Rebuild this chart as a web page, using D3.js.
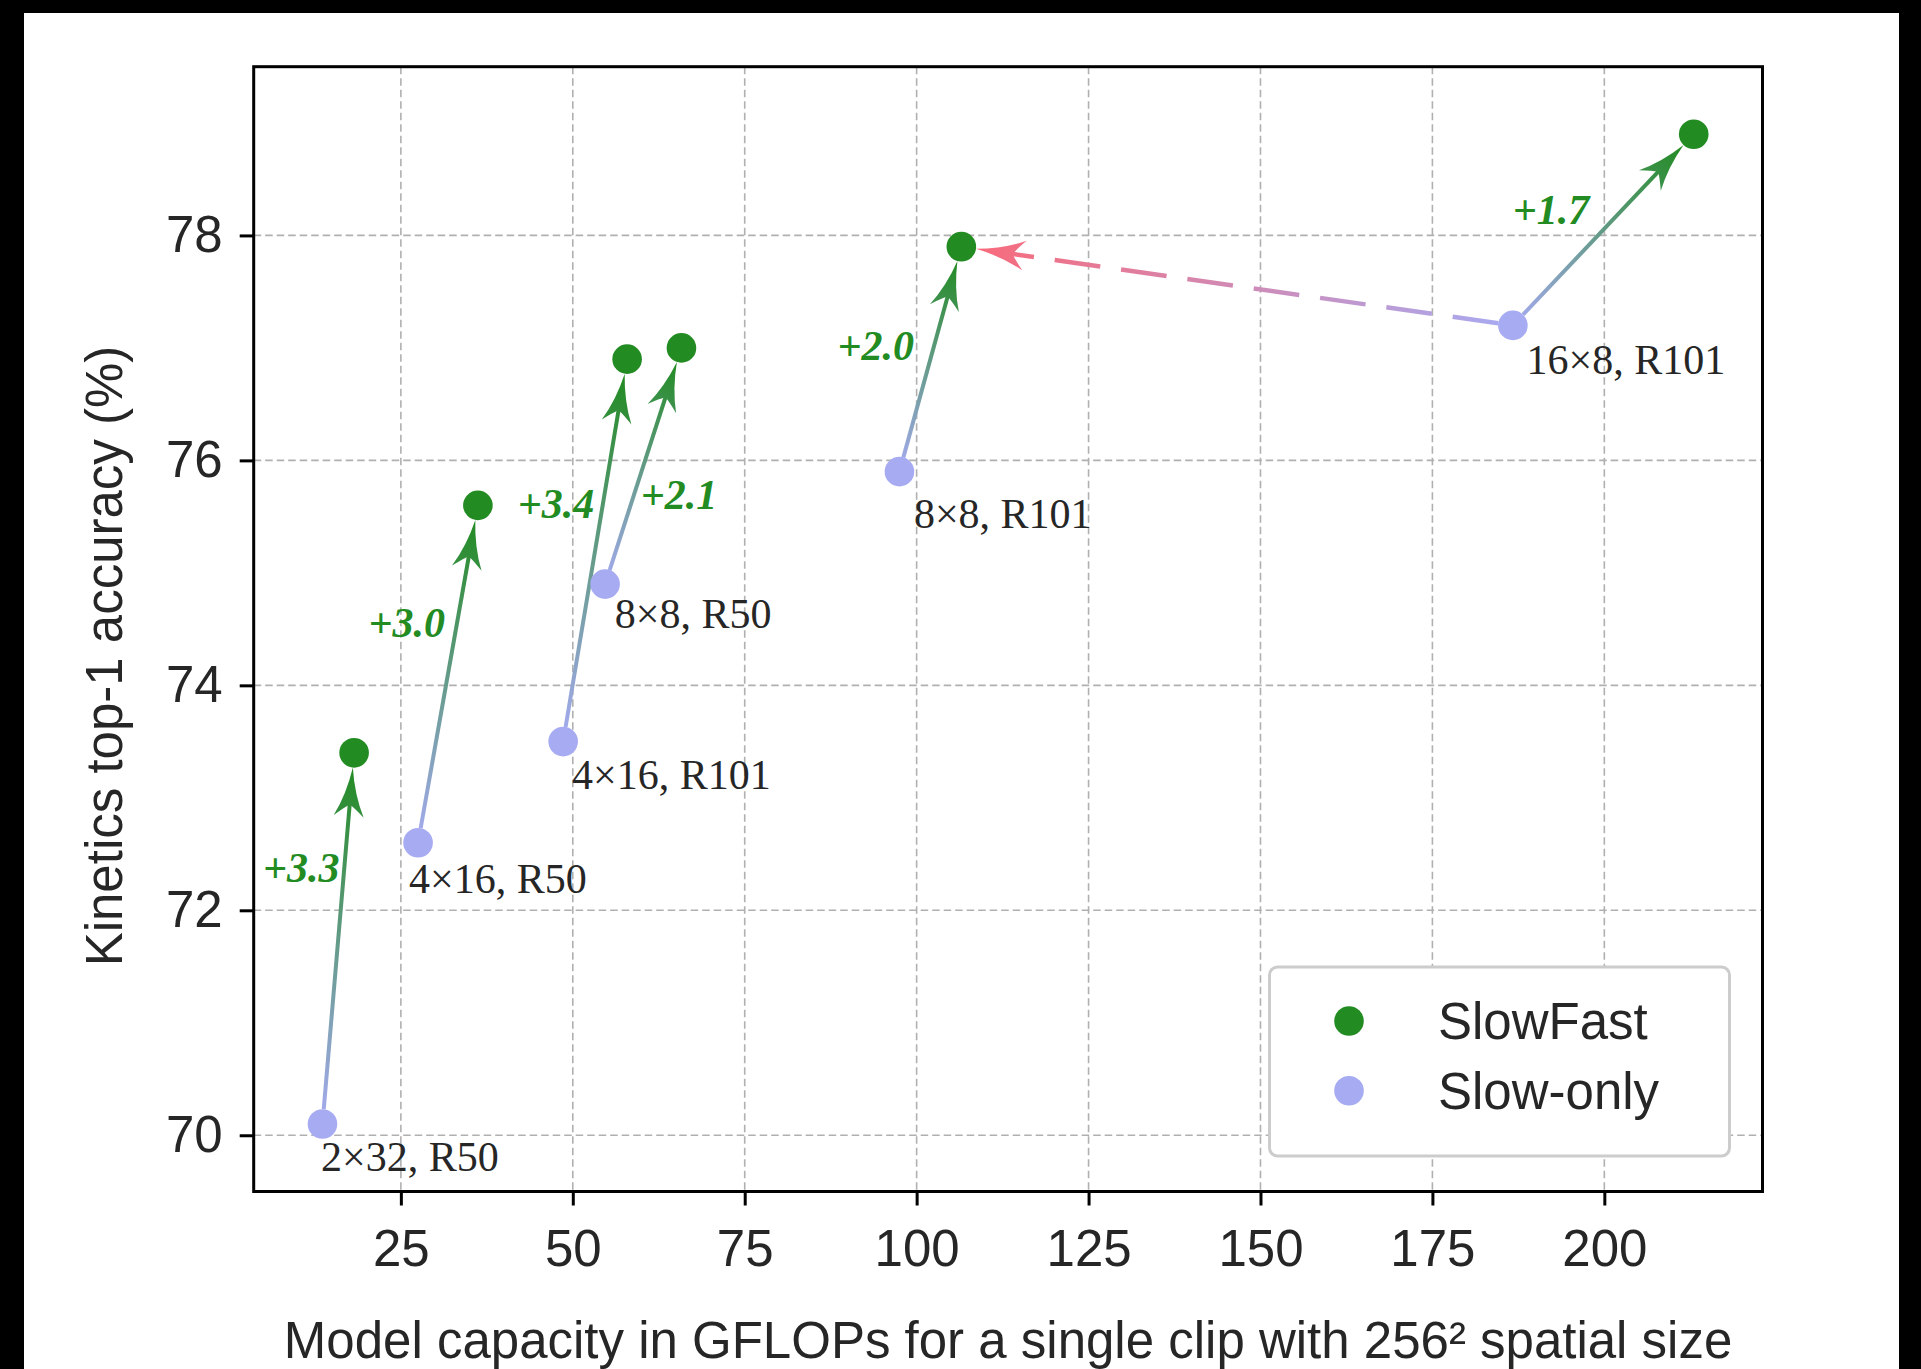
<!DOCTYPE html>
<html>
<head>
<meta charset="utf-8">
<script src="https://cdn.jsdelivr.net/npm/d3@7"></script>
<style>
html, body { margin: 0; padding: 0; background: #000; }
svg { display: block; }
</style>
</head>
<body>
<div id="graphic"></div>
<script>
// model configs, Slow-only vs SlowFast
var models = ["2×32, R50", "4×16, R50", "4×16, R101", "8×8, R50", "8×8, R101", "16×8, R101"];
var slowGflops = [13.6, 27.5, 48.6, 54.7, 97.5, 186.7];
var slowAcc = [70.1, 72.6, 73.5, 74.9, 75.9, 77.2];
var fastGflops = [18.2, 36.2, 57.9, 65.8, 106.5, 213.0];
var fastAcc = [73.4, 75.6, 76.9, 77.0, 77.9, 78.9];

// text annotation anchors (data units)
var modelLabelX = [13.4, 26.2, 49.9, 56.1, 99.6, 188.7];
var modelLabelY = [69.68, 72.15, 73.08, 74.51, 75.40, 76.77];
var gainLabelX = [4.95, 20.3, 42.0, 59.9, 88.5, 186.7];
var gainLabelY = [72.25, 74.43, 75.49, 75.57, 76.89, 78.10];

// dashed comparison arrow: Slow-only 16x8 R101 -> SlowFast 8x8 R101
var compareFrom = 5;
var compareTo = 4;

var xTicks = [25, 50, 75, 100, 125, 150, 175, 200];
var yTicks = [70, 72, 74, 76, 78];
var xDomain = [3.6, 223.0];
var yDomain = [69.5, 79.5];
var seriesNames = ["SlowFast", "Slow-only"];

var width = 1921, height = 1369;
var plot = {left: 253.7, right: 1762.5, top: 66.7, bottom: 1191.5};
var green = "#228b22", lavender = "#a7abf2", red = "#f86b7b";
var sans = "'Liberation Sans', Arial, sans-serif";
var serif = "'Liberation Serif', 'Times New Roman', serif";
var markerR = 14.8;

var svg = d3.select("#graphic").append("svg")
	.attr("width", width)
	.attr("height", height);

// frame of the screenshot
svg.append("rect").attr("width", width).attr("height", height).attr("fill", "#000");
svg.append("rect").attr("x", 24).attr("y", 13).attr("width", 1875).attr("height", height - 13).attr("fill", "#fff");

var x = d3.scaleLinear().domain(xDomain).range([plot.left, plot.right]);
var y = d3.scaleLinear().domain(yDomain).range([plot.bottom, plot.top]);

var defs = svg.append("defs");

// grid
var grid = svg.append("g");
grid.selectAll(".vg").data(xTicks).enter().append("line")
	.attr("x1", function(d) { return x(d); }).attr("x2", function(d) { return x(d); })
	.attr("y1", plot.top).attr("y2", plot.bottom);
grid.selectAll(".hg").data(yTicks).enter().append("line")
	.attr("y1", function(d) { return y(d); }).attr("y2", function(d) { return y(d); })
	.attr("x1", plot.left).attr("x2", plot.right);
grid.selectAll("line")
	.attr("stroke", "#b0b0b0")
	.attr("stroke-width", 1.6)
	.attr("stroke-dasharray", "7.5,4");

// axes
var xAxis = svg.append("g")
	.attr("transform", "translate(0," + plot.bottom + ")")
	.call(d3.axisBottom(x).tickValues(xTicks).tickSize(14).tickPadding(24));
var yAxis = svg.append("g")
	.attr("transform", "translate(" + plot.left + ",0)")
	.call(d3.axisLeft(y).tickValues(yTicks).tickSize(14).tickPadding(17));
[xAxis, yAxis].forEach(function(a) {
	a.select(".domain").remove();
	a.selectAll(".tick line").attr("stroke", "#000").attr("stroke-width", 3);
	a.selectAll(".tick text")
		.attr("fill", "#262626")
		.style("font-family", sans)
		.style("font-size", "51px");
});

// arrows
function arrow(g, id, x0, y0, x1, y1, c0, c1, dashed) {
	var dx = x1 - x0, dy = y1 - y0;
	var L = Math.sqrt(dx * dx + dy * dy);
	var ux = dx / L, uy = dy / L, nx = -uy, ny = ux;
	var tx = x1 - ux * markerR, ty = y1 - uy * markerR;
	function P(a, b) { return (tx - ux * a + nx * b) + "," + (ty - uy * a + ny * b); }

	var grad = defs.append("linearGradient")
		.attr("id", id)
		.attr("gradientUnits", "userSpaceOnUse")
		.attr("x1", x0).attr("y1", y0).attr("x2", tx).attr("y2", ty);
	grad.append("stop").attr("offset", 0).attr("stop-color", c0);
	grad.append("stop").attr("offset", 1).attr("stop-color", c1);

	g.append("line")
		.attr("x1", x0 + ux * markerR).attr("y1", y0 + uy * markerR)
		.attr("x2", tx - ux * 34).attr("y2", ty - uy * 34)
		.attr("stroke", "url(#" + id + ")")
		.attr("stroke-width", dashed ? 4.5 : 4)
		.attr("stroke-dasharray", dashed ? "46,21" : null);

	g.append("path")
		.attr("d", "M" + P(0, 0) + "Q" + P(27, 4) + " " + P(49, 15) +
			"Q" + P(40, 5) + " " + P(37, 0) +
			"Q" + P(40, -5) + " " + P(49, -15) +
			"Q" + P(27, -4) + " " + P(0, 0) + "Z")
		.attr("fill", "url(#" + id + ")");
}

var arrows = svg.append("g");
models.forEach(function(m, i) {
	arrow(arrows, "ag" + i, x(slowGflops[i]), y(slowAcc[i]), x(fastGflops[i]), y(fastAcc[i]), lavender, green, false);
});
arrow(arrows, "agc", x(slowGflops[compareFrom]), y(slowAcc[compareFrom]),
	x(fastGflops[compareTo]), y(fastAcc[compareTo]), lavender, red, true);

// markers
svg.append("g").selectAll("circle").data(models).enter().append("circle")
	.attr("cx", function(d, i) { return x(slowGflops[i]); })
	.attr("cy", function(d, i) { return y(slowAcc[i]); })
	.attr("r", markerR)
	.attr("fill", lavender);
svg.append("g").selectAll("circle").data(models).enter().append("circle")
	.attr("cx", function(d, i) { return x(fastGflops[i]); })
	.attr("cy", function(d, i) { return y(fastAcc[i]); })
	.attr("r", markerR)
	.attr("fill", green);

// labels
svg.append("g").selectAll("text").data(models).enter().append("text")
	.attr("x", function(d, i) { return x(modelLabelX[i]); })
	.attr("y", function(d, i) { return y(modelLabelY[i]); })
	.attr("fill", "#262626")
	.style("font-family", serif)
	.style("font-size", "42px")
	.text(function(d) { return d; });

var fmt = d3.format("+.1f");
svg.append("g").selectAll("text").data(models).enter().append("text")
	.attr("x", function(d, i) { return x(gainLabelX[i]); })
	.attr("y", function(d, i) { return y(gainLabelY[i]); })
	.attr("fill", green)
	.style("font-family", serif)
	.style("font-size", "42px")
	.style("font-weight", "bold")
	.style("font-style", "italic")
	.text(function(d, i) { return fmt(fastAcc[i] - slowAcc[i]); });

// legend
var legend = svg.append("g");
legend.append("rect")
	.attr("x", 1269.5).attr("y", 967).attr("width", 460).attr("height", 189)
	.attr("rx", 8)
	.attr("fill", "#fff").attr("stroke", "#cccccc").attr("stroke-width", 3);
var items = legend.selectAll(".item").data(seriesNames).enter().append("g")
	.attr("transform", function(d, i) { return "translate(1349," + (1021 + i * 69.7) + ")"; });
items.append("circle").attr("r", markerR)
	.attr("fill", function(d, i) { return i == 0 ? green : lavender; });
items.append("text")
	.attr("x", 89).attr("y", 18)
	.attr("fill", "#262626")
	.style("font-family", sans)
	.style("font-size", "51px")
	.text(function(d) { return d; });

// frame
svg.append("rect")
	.attr("x", plot.left).attr("y", plot.top)
	.attr("width", plot.right - plot.left).attr("height", plot.bottom - plot.top)
	.attr("fill", "none").attr("stroke", "#000").attr("stroke-width", 3);

// axis titles
svg.append("text")
	.attr("x", (plot.left + plot.right) / 2).attr("y", 1358)
	.attr("text-anchor", "middle")
	.attr("fill", "#262626")
	.style("font-family", sans)
	.style("font-size", "51px")
	.text("Model capacity in GFLOPs for a single clip with 256² spatial size");

svg.append("text")
	.attr("transform", "translate(122,656) rotate(-90)")
	.attr("text-anchor", "middle")
	.attr("fill", "#262626")
	.style("font-family", sans)
	.style("font-size", "51px")
	.text("Kinetics top-1 accuracy (%)");
</script>
</body>
</html>
